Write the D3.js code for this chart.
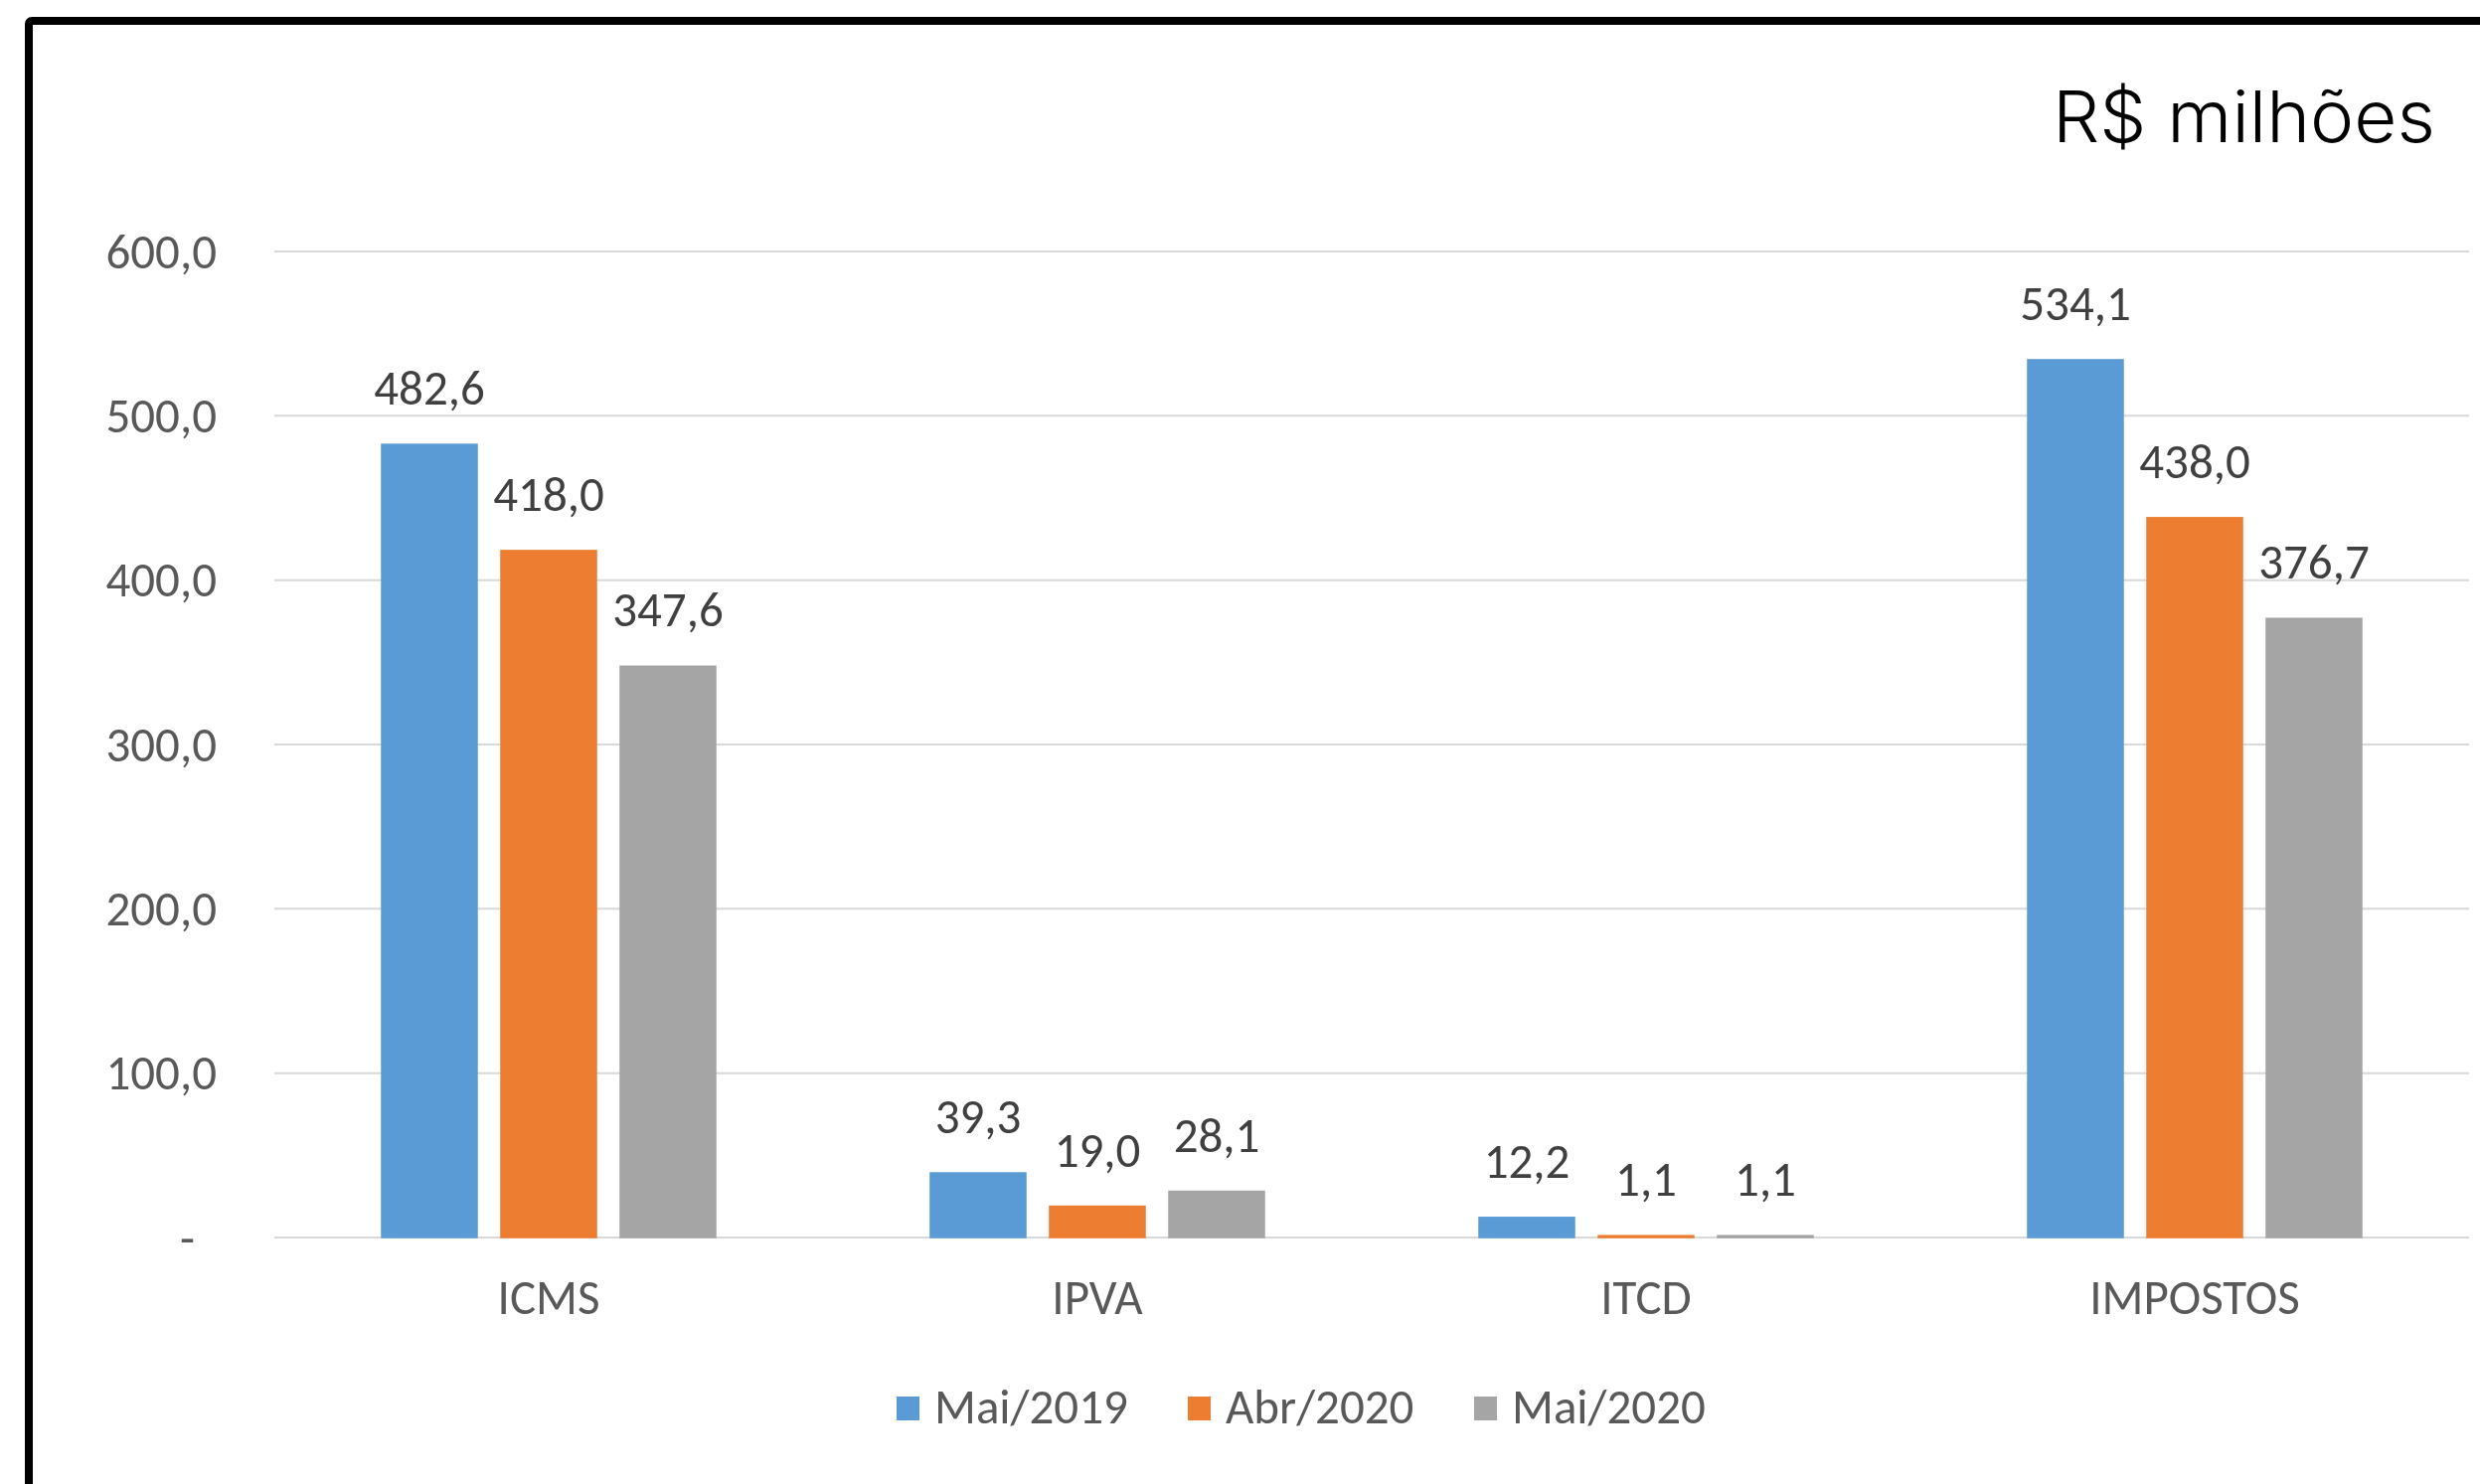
<!DOCTYPE html>
<html>
<head>
<meta charset="utf-8">
<script src="https://cdn.jsdelivr.net/npm/d3@7"></script>
<style>
  html, body { margin: 0; padding: 0; background: #fff; }
  svg { display: block; }
</style>
</head>
<body>
<svg id="chart" width="2495" height="1493"></svg>
<script>
// Arrecadação por tributo (R$ milhões)
const categories = ["ICMS", "IPVA", "ITCD", "IMPOSTOS"];
const seriesNames = ["Mai/2019", "Abr/2020", "Mai/2020"];
const seriesColors = ["#5B9BD5", "#ED7D31", "#A5A5A5"];
const mai2019 = [482.6, 39.3, 12.2, 534.1];
const abr2020 = [418.0, 19.0, 1.1, 438.0];
const mai2020 = [347.6, 28.1, 1.1, 376.7];
const yTicks = [0, 100, 200, 300, 400, 500, 600];
const unitLabel = "R$ milhões";

const seriesValues = [mai2019, abr2020, mai2020];
const fmt = v => v === 0 ? "-" : v.toFixed(1).replace(".", ",");

const W = 2495, H = 1493;
const margin = { left: 276, right: 11, top: 253, bottom: 248 };
const plotRight = W - margin.right;
const plotBottom = H - margin.bottom;

const svg = d3.select("#chart");
const FONT = "Carlito, Calibri, 'Open Sans', sans-serif";
const FS = 49;

svg.append("rect").attr("width", W).attr("height", H).attr("fill", "#fff");

// outer frame (open to the right and bottom edges)
svg.append("rect")
  .attr("x", 29).attr("y", 21)
  .attr("width", W + 40).attr("height", H + 40)
  .attr("rx", 3)
  .attr("fill", "none").attr("stroke", "#000").attr("stroke-width", 8);

const y = d3.scaleLinear().domain([0, 600]).range([plotBottom, margin.top]);
const x0 = d3.scaleBand().domain(categories).range([margin.left, plotRight]).padding(0);
const x1 = d3.scaleBand().domain(seriesNames).range([-180, 180]).paddingInner(0.2).paddingOuter(0.1);

// gridlines
const grid = svg.append("g").attr("class", "grid");
grid.selectAll("line").data(yTicks).join("line")
  .attr("x1", margin.left).attr("x2", plotRight)
  .attr("y1", d => y(d)).attr("y2", d => y(d))
  .attr("stroke", "#d9d9d9").attr("stroke-width", 2);

// y axis labels
const yAxis = svg.append("g")
  .attr("transform", `translate(218,0)`)
  .call(d3.axisLeft(y).tickValues(yTicks).tickFormat(fmt).tickSize(0).tickPadding(0));
yAxis.select(".domain").remove();
yAxis.selectAll("text")
  .attr("font-family", FONT).attr("font-size", FS).attr("fill", "#595959")
  .attr("dy", "0.33em")
  .attr("dx", d => d === 0 ? -22 : 0);

// x axis labels
const xAxis = svg.append("g")
  .attr("transform", `translate(0,${plotBottom})`)
  .call(d3.axisBottom(x0).tickSize(0).tickPadding(0));
xAxis.select(".domain").remove();
xAxis.selectAll("text")
  .attr("font-family", FONT).attr("font-size", FS).attr("fill", "#595959")
  .attr("y", 77).attr("dy", 0);

// bars
const rows = categories.map((c, i) => ({
  cat: c,
  vals: seriesNames.map((s, j) => ({ s, j, v: seriesValues[j][i] }))
}));

const groups = svg.append("g").selectAll("g").data(rows).join("g")
  .attr("transform", d => `translate(${x0(d.cat) + x0.bandwidth() / 2},0)`);

groups.selectAll("rect").data(d => d.vals).join("rect")
  .attr("x", d => x1(d.s))
  .attr("width", x1.bandwidth())
  .attr("y", d => y(d.v))
  .attr("height", d => y(0) - y(d.v))
  .attr("fill", d => seriesColors[d.j])
  .attr("stroke", d => seriesColors[d.j])
  .attr("stroke-width", 1.5);

groups.selectAll("text").data(d => d.vals).join("text")
  .attr("x", d => x1(d.s) + x1.bandwidth() / 2)
  .attr("y", d => y(d.v) - 40)
  .attr("text-anchor", "middle")
  .attr("font-family", FONT).attr("font-size", FS).attr("fill", "#404040")
  .text(d => fmt(d.v));

// legend
const legendItems = [
  { name: seriesNames[0], color: seriesColors[0], x: 902 },
  { name: seriesNames[1], color: seriesColors[1], x: 1195 },
  { name: seriesNames[2], color: seriesColors[2], x: 1483 }
];
const legend = svg.append("g").selectAll("g").data(legendItems).join("g")
  .attr("transform", d => `translate(${d.x},1405)`);
legend.append("rect").attr("width", 23).attr("height", 24).attr("fill", d => d.color);
legend.append("text")
  .attr("x", 38).attr("y", 27)
  .attr("font-family", FONT).attr("font-size", FS).attr("fill", "#595959")
  .text(d => d.name);

// unit title
svg.append("text")
  .attr("x", 2450).attr("y", 143)
  .attr("text-anchor", "end")
  .attr("font-family", "Inter, 'Open Sans', sans-serif")
  .attr("font-weight", 300)
  .attr("font-size", 72)
  .attr("textLength", 385)
  .attr("lengthAdjust", "spacingAndGlyphs")
  .attr("fill", "#000")
  .text(unitLabel);
</script>
</body>
</html>
